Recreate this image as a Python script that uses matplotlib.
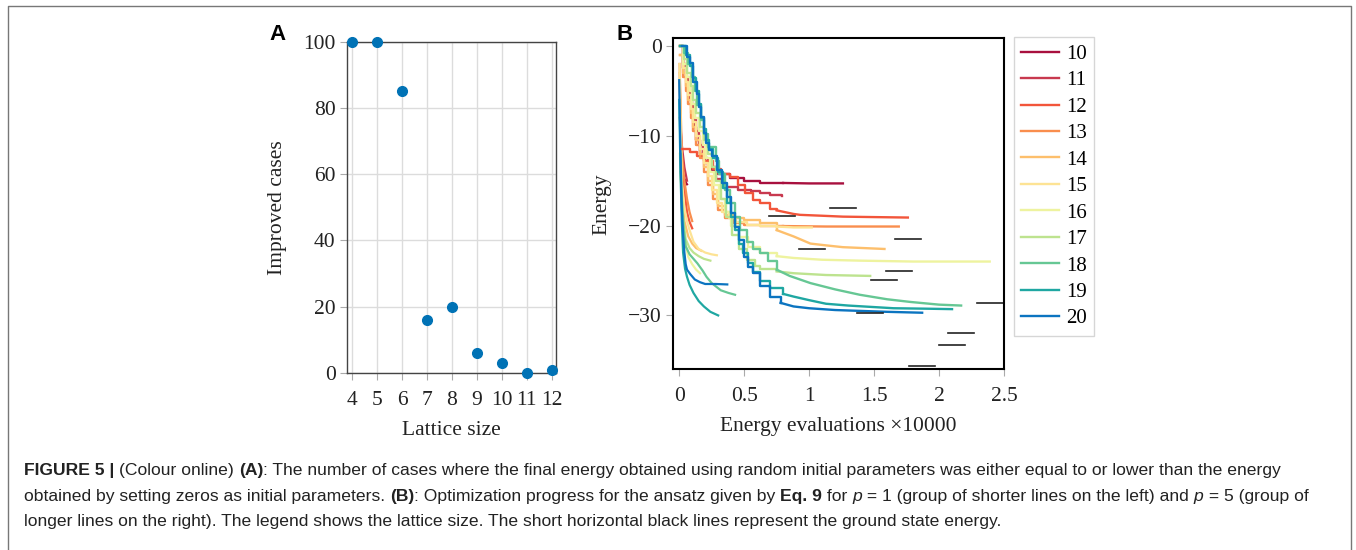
import numpy as np
import matplotlib
matplotlib.use("Agg")
import matplotlib.pyplot as plt
from matplotlib.lines import Line2D

# Panel A data
lattice_a = [4, 5, 6, 7, 8, 9, 10, 11, 12]
improved_cases = [100, 100, 85, 16, 20, 6, 3, 0, 1]

# Panel B data: lattice sizes and colours
sizes = [10, 11, 12, 13, 14, 15, 16, 17, 18, 19, 20]
colors = ["#a8103e", "#c8394f", "#f2553a", "#f98e4e", "#fdbf6c", "#fde394",
          "#eef39f", "#bde38f", "#66c794", "#1fa7a2", "#0b74c0"]

# p = 5 runs (long, stepped)
p5_x = {
    10: [0.01, 0.03, 0.05, 0.07, 0.085, 0.10, 0.115, 0.13, 0.16, 0.2, 0.25, 0.3, 0.39, 0.5, 0.62, 0.8, 1.0, 1.26],
    11: [0.01, 0.03, 0.05, 0.07, 0.09, 0.11, 0.13, 0.15, 0.18, 0.22, 0.28, 0.34, 0.45, 0.55, 0.62, 0.70, 0.795],
    12: [0.02, 0.08, 0.14, 0.19, 0.26, 0.32, 0.39, 0.45, 0.51, 0.57, 0.62, 0.70, 0.75, 0.88, 0.93, 1.1, 1.26, 1.5, 1.76],
    13: [0.01, 0.03, 0.05, 0.07, 0.09, 0.11, 0.13, 0.16, 0.19, 0.22, 0.26, 0.30, 0.35, 0.42, 0.50, 0.62, 0.8, 1.13, 1.4, 1.69],
    14: [0.01, 0.03, 0.05, 0.07, 0.09, 0.11, 0.13, 0.16, 0.19, 0.22, 0.26, 0.30, 0.35, 0.42, 0.50, 0.62, 0.75, 0.88, 1.01, 1.13, 1.26, 1.42, 1.58],
    15: [0.01, 0.03, 0.05, 0.07, 0.09, 0.11, 0.13, 0.16, 0.19, 0.22, 0.25, 0.29, 0.33, 0.38, 0.44, 0.52, 0.62, 0.75, 0.88, 1.02],
    16: [0.01, 0.03, 0.06, 0.08, 0.10, 0.12, 0.15, 0.18, 0.21, 0.24, 0.27, 0.31, 0.35, 0.40, 0.46, 0.53, 0.62, 0.75, 0.88, 1.1, 1.39, 1.8, 2.39],
    17: [0.01, 0.04, 0.06, 0.09, 0.11, 0.13, 0.16, 0.19, 0.22, 0.25, 0.28, 0.32, 0.36, 0.41, 0.46, 0.52, 0.58, 0.62, 0.75, 0.88, 1.13, 1.30, 1.47],
    18: [0.01, 0.04, 0.07, 0.10, 0.12, 0.14, 0.17, 0.19, 0.22, 0.25, 0.28, 0.31, 0.35, 0.39, 0.43, 0.47, 0.52, 0.57, 0.62, 0.68, 0.75, 0.85, 1.01, 1.2, 1.39, 1.6, 1.78, 2.0, 2.17],
    19: [0.01, 0.05, 0.08, 0.105, 0.13, 0.15, 0.17, 0.19, 0.21, 0.23, 0.26, 0.30, 0.34, 0.37, 0.40, 0.43, 0.46, 0.49, 0.53, 0.57, 0.62, 0.70, 0.80, 0.88, 1.0, 1.13, 1.3, 1.65, 1.9, 2.10],
    20: [0.02, 0.06, 0.085, 0.11, 0.135, 0.155, 0.17, 0.19, 0.21, 0.23, 0.25, 0.29, 0.33, 0.37, 0.40, 0.43, 0.46, 0.50, 0.53, 0.57, 0.62, 0.70, 0.78, 0.88, 1.0, 1.2, 1.4, 1.6, 1.87],
}
p5_e = {
    10: [0, -2.5, -3.5, -4.5, -6.0, -7.5, -9.0, -10.5, -12.0, -13.0, -13.8, -14.2, -14.7, -15.0, -15.2, -15.25, -15.3, -15.3],
    11: [0, -2.0, -3.5, -5.0, -6.5, -8.0, -9.5, -11.0, -12.5, -13.5, -14.8, -15.7, -16.0, -16.2, -16.4, -16.6, -16.7],
    12: [-11.5, -11.8, -12.3, -12.8, -13.7, -14.2, -14.6, -15.5, -16.4, -17.1, -17.5, -18.1, -18.3, -18.7, -18.8, -18.9, -19.0, -19.05, -19.1],
    13: [-1, -3.5, -5.0, -6.5, -8.0, -9.5, -11.0, -12.5, -14.0, -15.5, -17.0, -18.3, -19.2, -19.7, -19.9, -20.0, -20.05, -20.1, -20.1, -20.1],
    14: [-1, -3.0, -4.5, -6.0, -7.5, -9.0, -10.5, -12.0, -13.5, -15.0, -16.5, -17.8, -18.8, -19.2, -19.4, -19.7, -20.5, -21.2, -22.0, -22.2, -22.4, -22.5, -22.6],
    15: [0, -2.5, -4.0, -5.5, -7.0, -8.5, -10.0, -11.5, -13.0, -14.5, -16.0, -17.5, -18.5, -19.2, -19.6, -19.9, -20.0, -20.1, -20.2, -20.2],
    16: [0, -2.0, -3.5, -5.0, -6.5, -8.0, -9.5, -11.0, -12.5, -14.0, -15.5, -17.0, -18.5, -20.0, -21.3, -22.4, -23.1, -23.4, -23.6, -23.8, -23.9, -24.0, -24.0],
    17: [0, -1.5, -3.0, -4.5, -6.0, -7.5, -9.0, -10.5, -12.0, -13.5, -15.0, -17.0, -19.0, -21.0, -22.6, -23.8, -24.5, -24.8, -25.1, -25.3, -25.5, -25.55, -25.6],
    18: [0, -0.8, -2.0, -3.5, -5.0, -6.6, -8.2, -9.8, -11.2, -11.3, -12.8, -14.2, -16.0, -17.5, -19.0, -20.5, -21.8, -22.6, -23.1, -23.9, -24.9, -25.6, -26.4, -27.1, -27.7, -28.2, -28.5, -28.8, -28.9],
    19: [0, -1.0, -2.2, -3.6, -5.0, -6.5, -8.0, -9.2, -10.5, -11.5, -12.5, -14.0, -15.8, -17.5, -19.0, -20.5, -22.0, -23.0, -24.2, -25.2, -26.2, -27.0, -27.6, -27.9, -28.3, -28.7, -28.9, -29.2, -29.25, -29.3],
    20: [0, -1.2, -1.9, -4.0, -5.3, -6.8, -7.9, -9.7, -10.8, -11.6, -12.3, -13.8, -15.3, -16.8, -18.6, -20.1, -21.6, -23.5, -24.6, -25.3, -26.7, -28.0, -28.6, -29.0, -29.2, -29.4, -29.5, -29.6, -29.7],
}

# p = 1 runs (short, on the left)
p1_x = {
    10: [0.045, 0.05, 0.055, 0.06],
    11: [0.005, 0.02, 0.04, 0.06],
    12: [0.003, 0.02, 0.04, 0.06, 0.08, 0.10],
    13: [0.003, 0.02, 0.04, 0.06, 0.08, 0.10],
    14: [0.003, 0.02, 0.04, 0.07, 0.10, 0.13, 0.17],
    15: [0.003, 0.02, 0.04, 0.06, 0.08, 0.11, 0.15, 0.2, 0.25, 0.29],
    16: [0.005, 0.02, 0.04, 0.07, 0.10, 0.13, 0.16],
    17: [0.01, 0.03, 0.05, 0.08, 0.11, 0.15, 0.19, 0.24],
    18: [0.01, 0.02, 0.035, 0.05, 0.08, 0.11, 0.14, 0.18, 0.21, 0.25, 0.32, 0.38, 0.43],
    19: [0.0, 0.01, 0.02, 0.03, 0.045, 0.06, 0.08, 0.11, 0.15, 0.19, 0.24, 0.30],
    20: [0.0, 0.005, 0.01, 0.015, 0.02, 0.03, 0.04, 0.05, 0.06, 0.085, 0.12, 0.16, 0.2, 0.28, 0.37],
}
p1_e = {
    10: [-14.9, -15.1, -15.3, -15.4],
    11: [-8, -11, -13.5, -15],
    12: [-4, -13, -16, -18.5, -19.6, -20.3],
    13: [-2, -12, -15, -17, -18.5, -19.5],
    14: [-3, -16, -19.5, -21.2, -22.0, -22.5, -22.8],
    15: [-2, -15, -18, -19.5, -20.5, -21.8, -22.6, -23.0, -23.2, -23.3],
    16: [-12, -18, -21.5, -23.5, -24.3, -24.9, -25.3],
    17: [-14, -19, -21.5, -22.5, -23.0, -23.4, -23.7, -23.9],
    18: [-12, -17, -20.5, -22.3, -23.2, -23.7, -24.2, -25.0, -25.7, -26.4, -27.2, -27.5, -27.7],
    19: [-6, -14, -19.5, -23, -24.8, -25.7, -26.6, -27.5, -28.4, -29.0, -29.6, -30.0],
    20: [-3.8, -8, -12, -15.5, -18, -21, -23, -24.3, -24.9, -25.4, -26.0, -26.3, -26.5, -26.5, -26.55],
}

# ground state energies, drawn at the end of each p = 5 run
ground_energy = [-18.07, -18.9, -21.5, -25.1, -26.1, -22.6, -28.6, -29.7, -32.0, -33.3, -35.6]

serif = "Liberation Serif"
sans = "Liberation Sans"

fig = plt.figure(figsize=(13.56, 5.5), dpi=100)
W, H = 1356, 550


def box(l, t, r, b):
    return [l / W, 1 - b / H, (r - l) / W, (b - t) / H]


# ---- Panel A ----
axA = fig.add_axes(box(346.7, 41.7, 556, 373))
axA.plot(lattice_a, improved_cases, "o", color="#0072b5", markersize=7, clip_on=False, zorder=3)
axA.set_xlim(3.78, 12.18)
axA.set_ylim(0, 100)
axA.set_xticks(lattice_a)
axA.set_yticks([0, 20, 40, 60, 80, 100])
axA.grid(True, color="#dcdcdc", linewidth=1)
axA.set_axisbelow(True)
for s in axA.spines.values():
    s.set_color("#444444")
    s.set_linewidth(1)
axA.tick_params(direction="out", length=5, color="#aaaaaa", labelsize=15.5, pad=3, labelcolor="#222222")
axA.tick_params(axis="x", pad=8)
for lab in axA.get_xticklabels() + axA.get_yticklabels():
    lab.set_family(serif)
axA.set_xlabel("Lattice size", fontsize=15.5, family=serif, color="#222222", labelpad=8)
axA.set_ylabel("Improved cases", fontsize=15.5, family=serif, color="#222222", labelpad=12)

# ---- Panel B ----
axB = fig.add_axes(box(672.7, 38.3, 1004, 369.3))
handles = []
for n, c in zip(sizes, colors):
    axB.plot(p1_x[n], p1_e[n], color=c, linewidth=1.6)
for n, c in zip(sizes, colors):
    xs = np.array(p5_x[n])
    es = np.array(p5_e[n])
    k = int(np.searchsorted(xs, 0.8, side="right"))
    # staircase for the early part, smooth tail afterwards
    axB.plot(xs[:k], es[:k], color=c, linewidth=1.7, drawstyle="steps-post")
    axB.plot(xs[k - 1:], es[k - 1:], color=c, linewidth=1.7)
    handles.append(Line2D([], [], color=c, linewidth=1.7, label=str(n)))
for n, e in zip(sizes, ground_energy):
    xe = p5_x[n][-1]
    axB.plot([xe - 0.1, xe + 0.1], [e, e], color="#222222", linewidth=1.2, clip_on=False)

axB.set_xlim(-0.05, 2.5)
axB.set_ylim(-36, 0.86)
axB.set_xticks([0, 0.5, 1, 1.5, 2, 2.5])
axB.set_xticklabels(["0", "0.5", "1", "1.5", "2", "2.5"])
axB.set_yticks([0, -10, -20, -30])
for s in axB.spines.values():
    s.set_color("black")
    s.set_linewidth(1.5)
axB.tick_params(direction="out", length=5, color="#aaaaaa", labelsize=15.5, pad=3, labelcolor="#222222")
axB.tick_params(axis="x", pad=8)
for lab in axB.get_xticklabels() + axB.get_yticklabels():
    lab.set_family(serif)
axB.set_xlabel("Energy evaluations \u00d710000", fontsize=15.5, family=serif, color="#222222", labelpad=8)
axB.set_ylabel("Energy", fontsize=15.5, family=serif, color="#222222", labelpad=12)

leg = fig.legend(handles=handles, loc="upper left", bbox_to_anchor=(1014 / W, 1 - 37 / H),
                 prop={"family": serif, "size": 15}, frameon=True, fancybox=False,
                 handlelength=1.8, handletextpad=0.35, labelspacing=0.33, borderpad=0.35,
                 borderaxespad=0)
leg.get_frame().set_edgecolor("#cccccc")
leg.get_frame().set_linewidth(1)

# panel letters
fig.text(278 / W, 1 - 34 / H, "A", family=sans, weight="bold", fontsize=16, ha="center", va="center")
fig.text(625 / W, 1 - 34 / H, "B", family=sans, weight="bold", fontsize=16, ha="center", va="center")

# outer frame (open at the bottom)
frame_x = [8 / W, 8 / W, 1351 / W, 1351 / W]
frame_y = [0, 1 - 6 / H, 1 - 6 / H, 0]
fig.add_artist(Line2D(frame_x, frame_y, color="#777777", linewidth=1))

# caption
caption = [
    [("FIGURE 5 | ", "bold", "normal"), ("(Colour online) ", "normal", "normal"), ("(A)", "bold", "normal"),
     (": The number of cases where the final energy obtained using random initial parameters was either equal to or lower than the energy", "normal", "normal")],
    [("obtained by setting zeros as initial parameters. ", "normal", "normal"), ("(B)", "bold", "normal"),
     (": Optimization progress for the ansatz given by ", "normal", "normal"), ("Eq. 9", "bold", "normal"),
     (" for ", "normal", "normal"), ("p", "normal", "italic"), (" = 1 (group of shorter lines on the left) and ", "normal", "normal"),
     ("p", "normal", "italic"), (" = 5 (group of", "normal", "normal")],
    [("longer lines on the right). The legend shows the lattice size. The short horizontal black lines represent the ground state energy.", "normal", "normal")],
]
renderer = fig.canvas.get_renderer()
line_y = [475, 501, 526]
for segs, yy in zip(caption, line_y):
    x0 = 24
    for txt, wt, st in segs:
        t = fig.text(x0 / W, 1 - yy / H, txt, family=sans, weight=wt, style=st,
                     fontsize=12.6, color="#222222", va="baseline", ha="left")
        x0 += t.get_window_extent(renderer).width

fig.savefig("out.png", dpi=100)
